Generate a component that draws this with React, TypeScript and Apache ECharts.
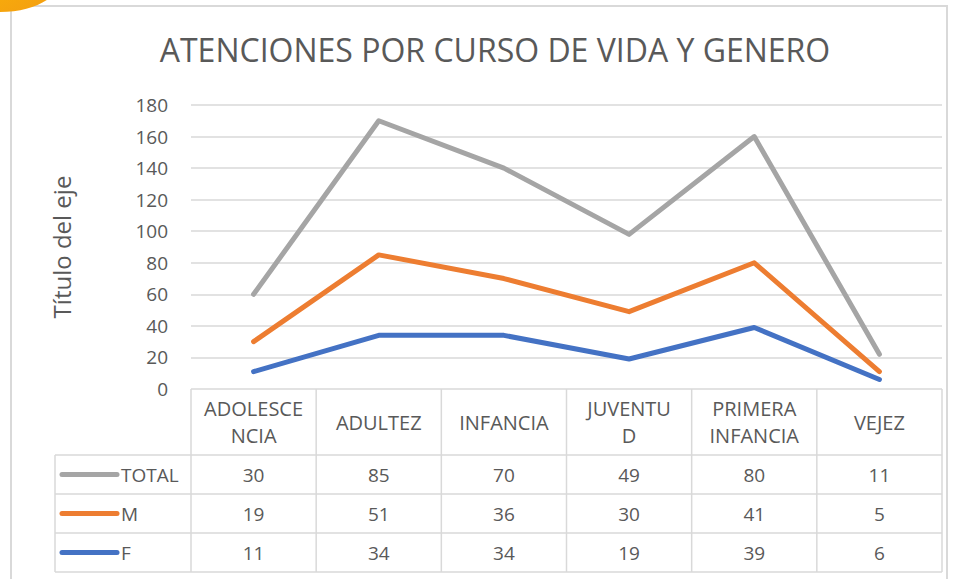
import React, { useEffect, useRef } from "react";
import * as echarts from "echarts";

const categories = ["ADOLESCENCIA", "ADULTEZ", "INFANCIA", "JUVENTUD", "PRIMERA INFANCIA", "VEJEZ"];
const headerLabels = ["ADOLESCE\nNCIA", "ADULTEZ", "INFANCIA", "JUVENTU\nD", "PRIMERA\nINFANCIA", "VEJEZ"];
const seriesNames = ["TOTAL", "M", "F"];
const totalValues = [30, 85, 70, 49, 80, 11];
const mValues = [19, 51, 36, 30, 41, 5];
const fValues = [11, 34, 34, 19, 39, 6];
const seriesColors = ["#A5A5A5", "#ED7D31", "#4472C4"];
const yMin = 0;
const yMax = 180;
const yInterval = 20;

const FONT = "Open Sans";
const TXT = "#595959";
const LINE = "#d9d9d9";

export default function App() {
  const ref = useRef<HTMLDivElement>(null);
  useEffect(() => {
    if (!ref.current) return;
    const chart = echarts.init(ref.current, null, { renderer: "svg" });
    const rows = [totalValues, mValues, fValues];
    const mk = (name: string, data: number[], color: string) => ({
      name,
      type: "line",
      stack: "all",
      data,
      symbol: "none",
      lineStyle: { color, width: 5, cap: "round", join: "round" },
      itemStyle: { color },
    });
    chart.setOption({
      animation: false,
      backgroundColor: "#ffffff",
      title: {
        text: "ATENCIONES POR CURSO DE VIDA Y GENERO",
        left: 490,
        textAlign: "center",
        top: 28,
        textStyle: { fontFamily: FONT, fontSize: 32, fontWeight: "normal", color: TXT },
      },
      grid: { left: 191, right: 14, top: 105, bottom: 190 },
      xAxis: {
        type: "category",
        data: categories,
        boundaryGap: true,
        axisLine: { show: false },
        axisTick: { show: false },
        axisLabel: {
          interval: 0,
          margin: 33,
          verticalAlign: "middle",
          lineHeight: 27,
          fontFamily: FONT,
          fontSize: 20,
          color: TXT,
          formatter: (_v: string, i: number) => headerLabels[i],
        },
      },
      yAxis: {
        type: "value",
        min: yMin,
        max: yMax,
        interval: yInterval,
        name: "Título del eje",
        nameLocation: "middle",
        nameGap: 118,
        nameRotate: 90,
        nameTextStyle: { fontFamily: FONT, fontSize: 24, color: TXT },
        axisLine: { show: false },
        axisTick: { show: false },
        axisLabel: { margin: 23, fontFamily: FONT, fontSize: 19, color: TXT },
        splitLine: { lineStyle: { color: LINE, width: 1.5 } },
      },
      series: [
        mk(seriesNames[2], fValues, seriesColors[2]),
        mk(seriesNames[1], mValues, seriesColors[1]),
        mk(seriesNames[0], totalValues, seriesColors[0]),
      ],
    });

    const xs = categories.map((_, i) => chart.convertToPixel({ xAxisIndex: 0 }, i) as number);
    const colW = xs[1] - xs[0];
    const tLeft = xs[0] - colW / 2;
    const tRight = xs[xs.length - 1] + colW / 2;
    const y0 = chart.convertToPixel({ yAxisIndex: 0 }, 0) as number;
    const headerH = 66;
    const rowH = 39;
    const legLeft = 55;
    const rowTops = rows.map((_, r) => y0 + headerH + r * rowH);
    const tBottom = y0 + headerH + rows.length * rowH;
    const g: any[] = [];
    const ln = (x1: number, y1: number, x2: number, y2: number) =>
      g.push({ type: "line", shape: { x1, y1, x2, y2 }, style: { stroke: LINE, lineWidth: 1.5 }, silent: true });
    g.push({ type: "rect", shape: { x: 11, y: 6, width: 936, height: 600 }, style: { fill: "none", stroke: LINE, lineWidth: 2 }, silent: true });
    g.push({
      type: "ellipse",
      shape: { cx: 0, cy: -20, rx: 60, ry: 32 },
      style: {
        fill: new echarts.graphic.LinearGradient(0, 0, 1, 1, [
          { offset: 0, color: "#FFC000" },
          { offset: 1, color: "#F39C12" },
        ]),
      },
      silent: true,
    });
    for (let i = 0; i <= categories.length; i++) {
      const x = tLeft + i * colW;
      ln(x, y0, x, tBottom);
    }
    ln(legLeft, rowTops[0], legLeft, tBottom);
    for (const t of rowTops) ln(legLeft, t, tRight, t);
    ln(legLeft, tBottom, tRight, tBottom);
    rows.forEach((vals, r) => {
      const cy = rowTops[r] + rowH / 2;
      g.push({
        type: "line",
        shape: { x1: 62, y1: cy, x2: 117, y2: cy },
        style: { stroke: seriesColors[r], lineWidth: 5, lineCap: "round" },
        silent: true,
      });
      g.push({
        type: "text",
        x: 121,
        y: cy,
        style: { text: seriesNames[r], fontFamily: FONT, fontSize: 19, fill: TXT, verticalAlign: "middle", align: "left" },
        silent: true,
      });
      vals.forEach((v, i) => {
        g.push({
          type: "text",
          x: xs[i],
          y: cy,
          style: { text: String(v), fontFamily: FONT, fontSize: 19, fill: TXT, verticalAlign: "middle", align: "center" },
          silent: true,
        });
      });
    });
    chart.setOption({ graphic: g });
    return () => chart.dispose();
  }, []);
  return <div ref={ref} style={{ position: "fixed", left: 0, top: 0, width: 956, height: 579 }} />;
}
